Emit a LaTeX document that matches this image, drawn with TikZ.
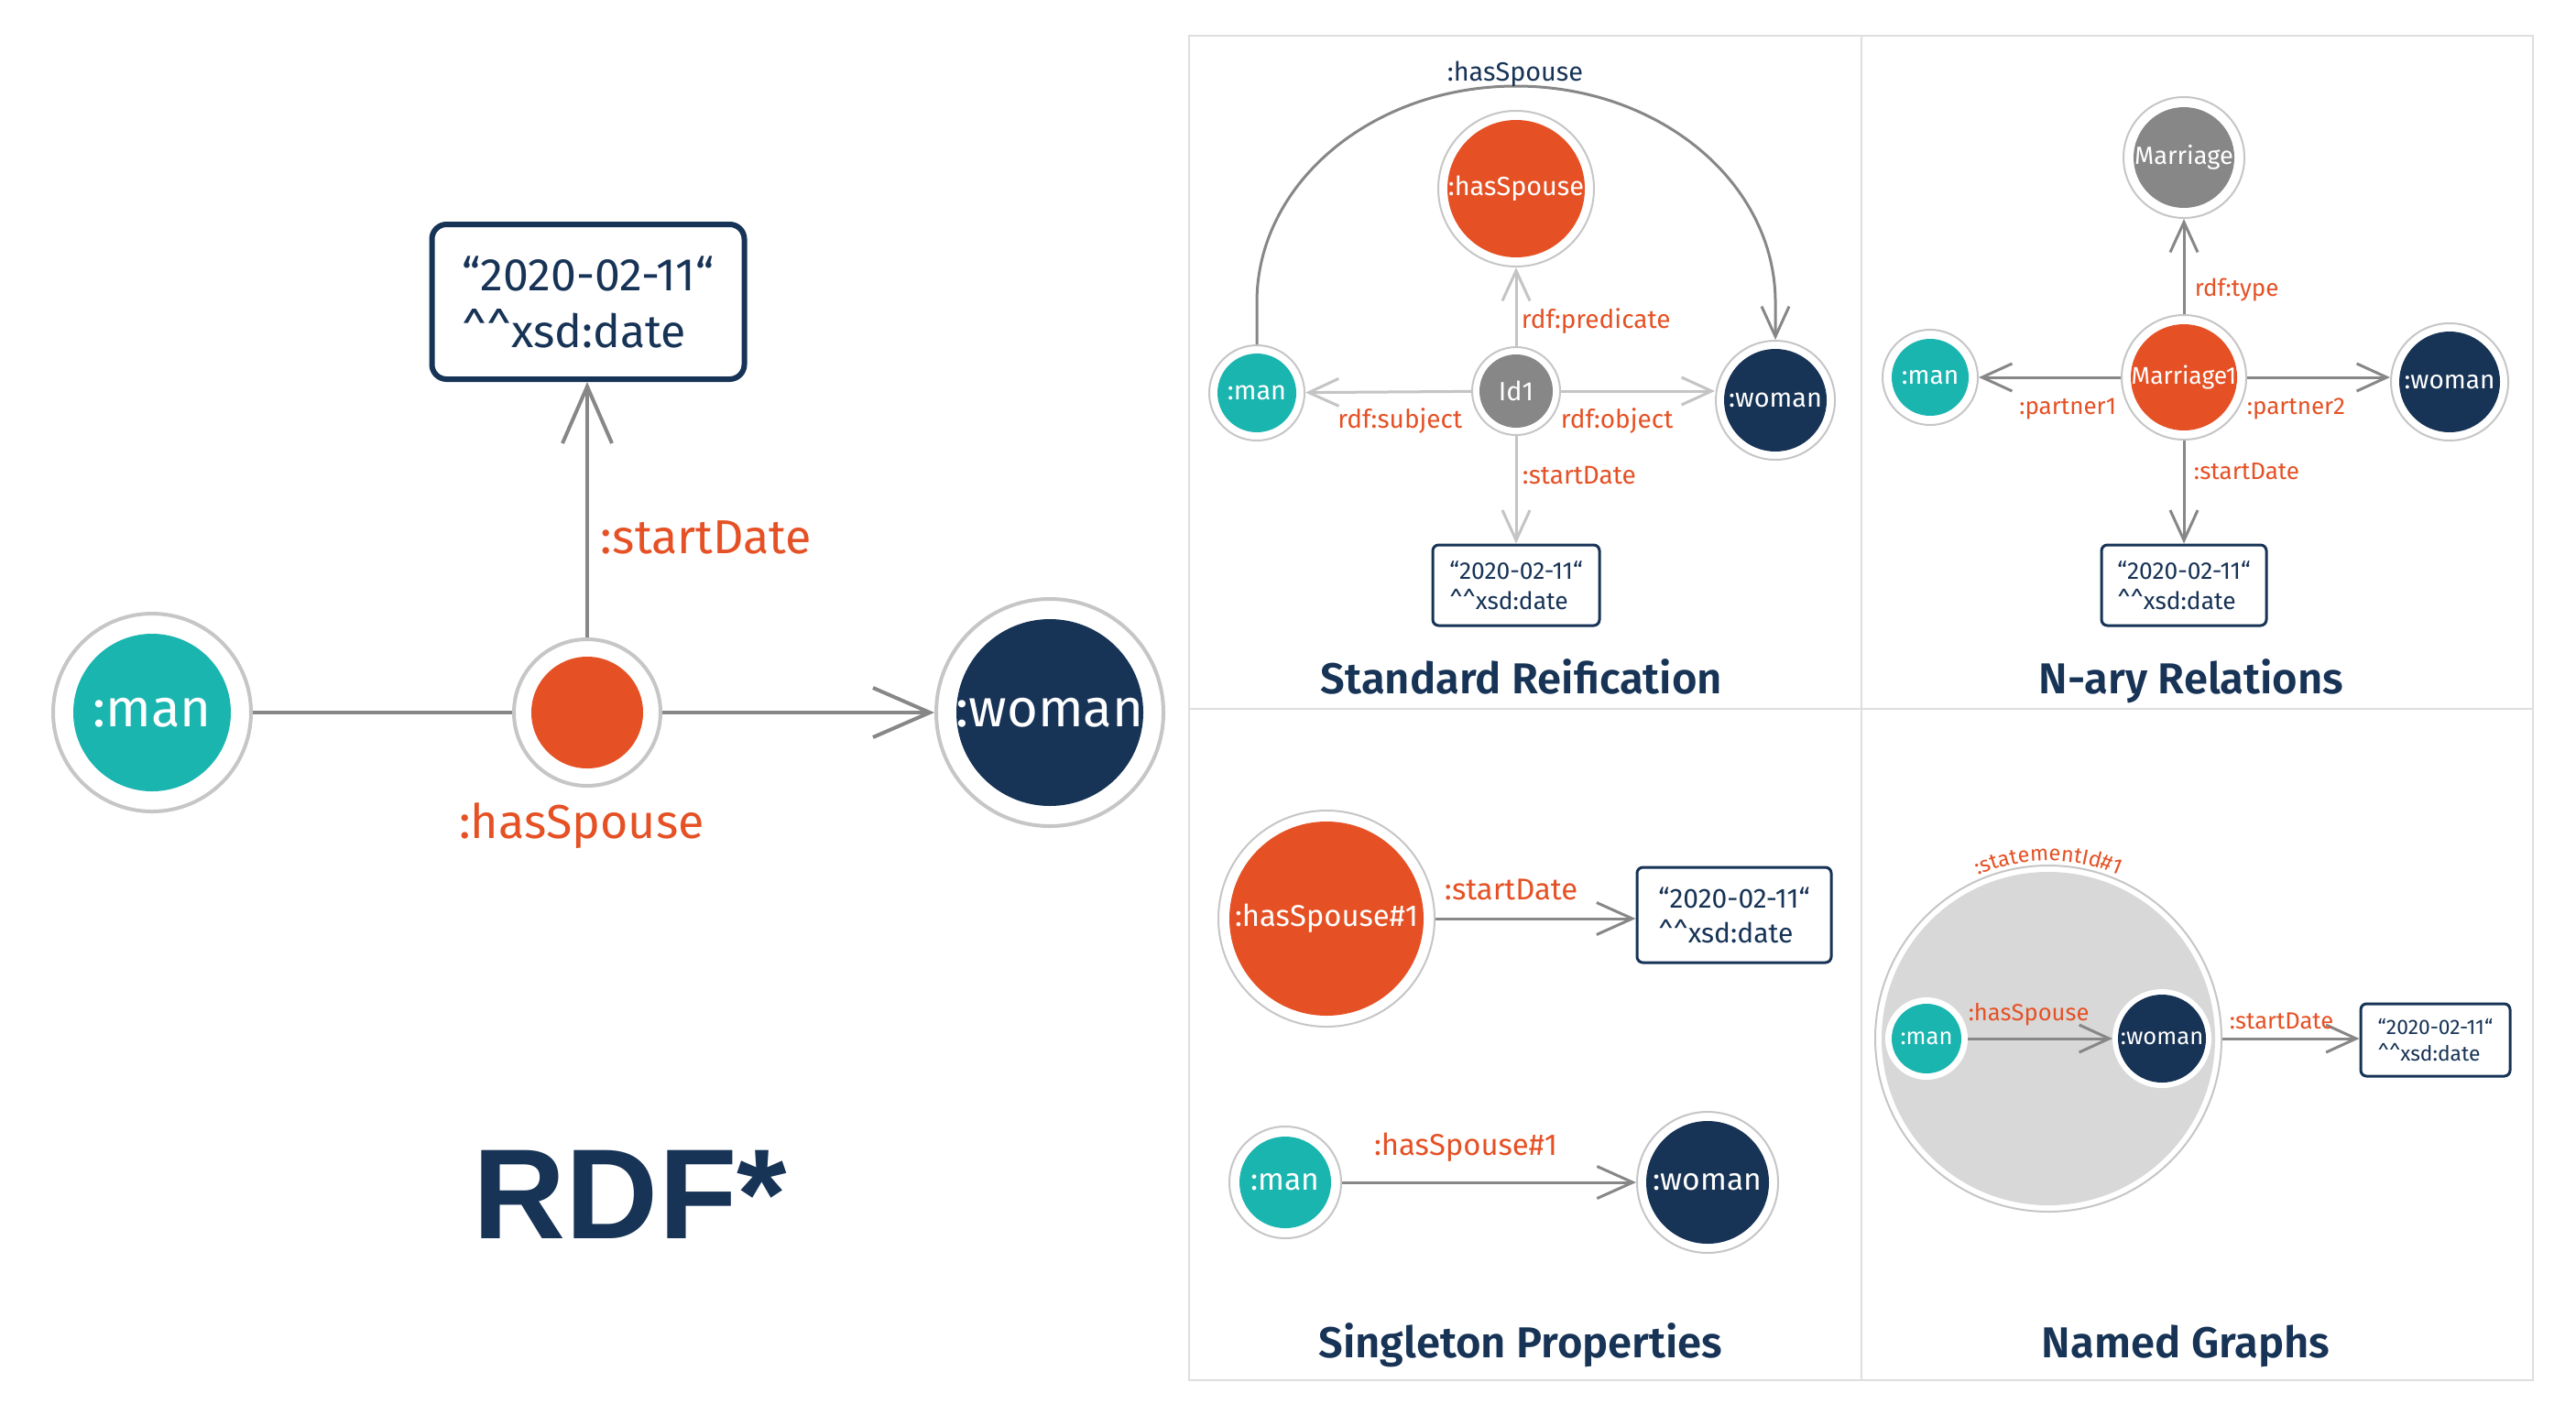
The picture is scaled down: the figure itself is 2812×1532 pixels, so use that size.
\documentclass[tikz,border=0pt]{standalone}
\usepackage{fontspec}
\setmainfont{Fira Sans}
\newfontfamily\rdffont{Liberation Sans}
\newfontfamily\semib{Fira Sans SemiBold}
\usetikzlibrary{arrows.meta,decorations.text}
\definecolor{tealc}{HTML}{1BB5B0}
\definecolor{navyc}{HTML}{173356}
\definecolor{orangec}{HTML}{E55125}
\definecolor{grayc}{HTML}{878787}
\definecolor{ringc}{HTML}{C6C6C6}
\definecolor{edgec}{HTML}{878787}
\definecolor{lightedgec}{HTML}{C4C4C4}
\definecolor{gridc}{HTML}{DEDEDE}
\definecolor{graphc}{HTML}{D8D8D8}
\newcommand\fs[1]{\fontsize{#1}{#1}\selectfont}
\tikzset{
  ringnode/.style n args={4}{circle, inner sep=0pt, draw=#4, line width=0.5pt, fill=white,
    minimum size=#1*0.5pt, text=white,
    path picture={\fill[#3] (path picture bounding box.center) circle[radius=#2*0.25pt];}},
  boxL/.style={draw=navyc, line width=1.5pt, rounded corners=4pt, fill=white, text=navyc,
    align=left, inner sep=0pt, minimum width=85.25pt, minimum height=42.25pt,
    font=\fontsize{12.5}{15.5}\selectfont},
  boxS/.style={draw=navyc, line width=0.75pt, rounded corners=1.6pt, fill=white, text=navyc,
    align=left, inner sep=0pt},
  lblL/.style={text=orangec, inner sep=0pt, font=\fs{13}},
  lbl/.style={text=orangec, inner sep=0pt},
  ttl/.style={text=navyc, inner sep=0pt, font=\semib\fs{11.8}, anchor=base},
  lineL/.style={draw=edgec, line width=1pt},
  arrL/.style={draw=edgec, line width=1pt, -{Straight Barb[length=15.5pt,width=13.5pt]}},
  arrD/.style={draw=edgec, line width=0.75pt, -{Straight Barb[length=8.2pt,width=7.5pt]}},
  arrLi/.style={draw=lightedgec, line width=0.75pt, -{Straight Barb[length=8.2pt,width=7.5pt]}},
  arrB/.style={draw=edgec, line width=0.75pt, -{Straight Barb[length=9.75pt,width=8.75pt]}},
}
\begin{document}
\begin{tikzpicture}[x=0.25pt,y=-0.25pt]
\useasboundingbox (0,0) rectangle (2812,1532);
\fill[white] (0,0) rectangle (2812,1532);

% grid of the four panels
\draw[gridc, line width=0.5pt] (1298,39) rectangle (2765,1507);
\draw[gridc, line width=0.5pt] (2032,39) -- (2032,1507);
\draw[gridc, line width=0.5pt] (1298,774) -- (2765,774);

% ---------- RDF* (left) ----------
\node[ringnode={108}{86}{tealc}{ringc}, line width=1pt, font=\fs{14.5}] (lman) at (166,778) {:man};
\node[ringnode={80}{61}{orangec}{ringc}, line width=1pt] (lsp) at (641,778) {};
\node[ringnode={124}{102}{navyc}{ringc}, line width=1pt, font=\fs{14.5}] (lwoman) at (1146,778) {:woman};
\node[boxL] (lbox) at (642,329.5) {“2020-02-11“\\\textasciicircum\textasciicircum xsd:date};
\draw[lineL] (lman) -- (lsp);
\draw[arrL] (lsp) -- (lwoman);
\draw[arrL] (lsp) -- (lsp |- lbox.south);
\node[lblL, anchor=base west] (lstart) at (655,604) {:startDate};
\node[lblL, anchor=base] (lhas) at (635,915) {:hasSpouse};
\node[anchor=base, text=navyc, inner sep=0pt, font={\rdffont\bfseries\fs{35}}] (rdf) at (688,1352) {RDF*};

% ---------- Standard Reification ----------
\node[ringnode={52}{43}{tealc}{ringc}, font=\fs{7.2}] (p1man) at (1372,429) {:man};
\node[ringnode={48}{40}{grayc}{ringc}, font=\fs{7.2}] (p1id) at (1655,427) {Id1};
\node[ringnode={65}{56}{navyc}{ringc}, font=\fs{7.2}] (p1woman) at (1938,437) {:woman};
\node[ringnode={85}{75}{orangec}{ringc}, font=\fs{7.2}] (p1sp) at (1655,206) {:hasSpouse};
\node[boxS, minimum width=45.5pt, minimum height=22pt, font=\fontsize{6.6}{8.25}\selectfont] (p1box) at (1655,639) {“2020-02-11“\\\textasciicircum\textasciicircum xsd:date};
\draw[arrLi] (p1id) -- (p1sp);
\draw[arrLi] (p1id) -- (p1man);
\draw[arrLi] (p1id) -- (p1id -| p1woman.west);
\draw[arrLi] (p1id) -- (p1box);
\draw[arrD] (p1man.north) -- (1372,330) .. controls (1372,200) and (1498,94) .. (1655,94)
   .. controls (1812,94) and (1938,200) .. (1938,330) -- (p1woman.north);
\node[lbl, font=\fs{7}, anchor=base west] (p1pred) at (1660,358) {rdf:predicate};
\node[lbl, font=\fs{7}, anchor=base east] (p1subj) at (1597,467) {rdf:subject};
\node[lbl, font=\fs{7}, anchor=base west] (p1obj) at (1703,467) {rdf:object};
\node[lbl, font=\fs{7}, anchor=base west] (p1start) at (1661,528) {:startDate};
\node[text=navyc, inner sep=0pt, font=\fs{7.2}, anchor=base] (p1arc) at (1654,88) {:hasSpouse};
\node[ttl] (t1) at (1661,757) {Standard Reification};

% ---------- N-ary Relations ----------
\node[ringnode={66}{55}{grayc}{ringc}, font=\fs{6.8}] (p2type) at (2384,172) {Marriage};
\node[ringnode={68}{58}{orangec}{ringc}, font=\fs{6.6}] (p2m1) at (2384,412) {Marriage1};
\node[ringnode={52}{42}{tealc}{ringc}, font=\fs{7}] (p2man) at (2107,412) {:man};
\node[ringnode={64}{55}{navyc}{ringc}, font=\fs{7}] (p2woman) at (2674,417) {:woman};
\node[boxS, minimum width=45pt, minimum height=22pt, font=\fontsize{6.6}{8.25}\selectfont] (p2box) at (2384,639) {“2020-02-11“\\\textasciicircum\textasciicircum xsd:date};
\draw[arrD] (p2m1) -- (p2type);
\draw[arrD] (p2m1) -- (p2man);
\draw[arrD] (p2m1) -- (p2m1 -| p2woman.west);
\draw[arrD] (p2m1) -- (p2box);
\node[lbl, font=\fs{6.5}, anchor=base west] (p2typel) at (2395,323) {rdf:type};
\node[lbl, font=\fs{6.5}, anchor=base east] (p2p1) at (2311,452) {:partner1};
\node[lbl, font=\fs{6.5}, anchor=base west] (p2p2) at (2452,452) {:partner2};
\node[lbl, font=\fs{6.5}, anchor=base west] (p2start) at (2394,523) {:startDate};
\node[ttl] (t2) at (2392,757) {N-ary Relations};

% ---------- Singleton Properties ----------
\node[ringnode={118}{106}{orangec}{ringc}, font=\fs{8.2}] (p3sp) at (1448,1003) {:hasSpouse\#1};
\node[boxS, minimum width=53pt, minimum height=26pt, font=\fontsize{7.5}{9.5}\selectfont] (p3box) at (1893,999) {“2020-02-11“\\\textasciicircum\textasciicircum xsd:date};
\node[ringnode={61}{50}{tealc}{ringc}, font=\fs{8.4}] (p3man) at (1403,1291) {:man};
\node[ringnode={77}{67}{navyc}{ringc}, font=\fs{8.4}] (p3woman) at (1864,1291) {:woman};
\draw[arrB] (p3sp) -- (p3sp -| p3box.west);
\draw[arrB] (p3man) -- (p3woman);
\node[lbl, font=\fs{8.2}, anchor=base west] (p3start) at (1576,982) {:startDate};
\node[lbl, font=\fs{8.2}, anchor=base] (p3has) at (1600,1261) {:hasSpouse\#1};
\node[ttl] (t3) at (1660,1482) {Singleton Properties};

% ---------- Named Graphs ----------
\node[ringnode={189}{182}{graphc}{ringc}] (p4g) at (2236,1134) {};
\node[ringnode={44}{38}{tealc}{white}, font=\fs{6.4}] (p4man) at (2103,1134) {:man};
\node[ringnode={53}{48}{navyc}{white}, font=\fs{6.4}] (p4woman) at (2360,1134) {:woman};
\node[boxS, minimum width=40.75pt, minimum height=19.75pt, font=\fontsize{5.7}{7.25}\selectfont] (p4box) at (2658.5,1135.5) {“2020-02-11“\\\textasciicircum\textasciicircum xsd:date};
\draw[arrD] (p4man) -- (p4woman);
\draw[arrD] (p4g) -- (p4g -| p4box.west);
\node[lbl, font=\fs{6.4}, anchor=base west] (p4has) at (2148,1114) {:hasSpouse};
\node[lbl, font=\fs{6.4}, anchor=base west] (p4start) at (2433,1123) {:startDate};
\path[decorate, decoration={text along path, text={|\fs{5.9}\color{orangec}|:statementId{\#}1}, text align=center}]
  (2139,966) .. controls (2199,931) and (2273,931) .. (2333,966);
\node[ttl] (t4) at (2386,1482) {Named Graphs};
\end{tikzpicture}
\end{document}
